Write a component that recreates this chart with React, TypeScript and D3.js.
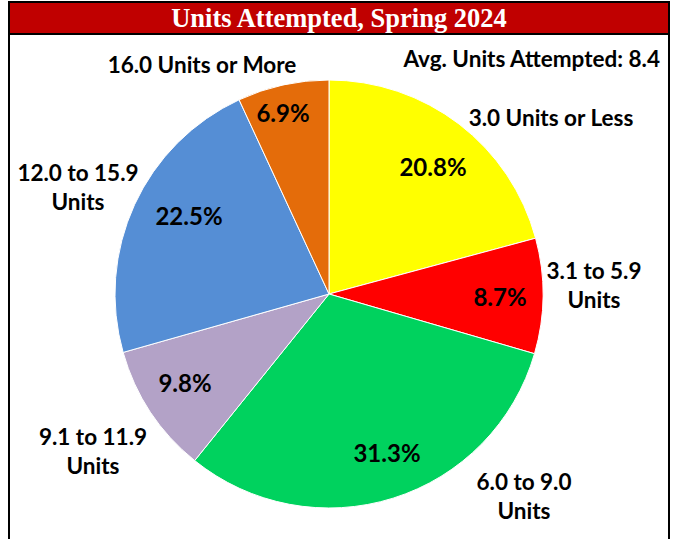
import React from "react";
import * as d3 from "d3";

const categories = [
  "3.0 Units or Less",
  "3.1 to 5.9 Units",
  "6.0 to 9.0 Units",
  "9.1 to 11.9 Units",
  "12.0 to 15.9 Units",
  "16.0 Units or More",
];
const values = [20.8, 8.7, 31.3, 9.8, 22.5, 6.9];
const colors = ["#FFFF00", "#FF0000", "#00D25E", "#B3A2C7", "#558ED5", "#E46C0A"];
const labelLines = [
  ["3.0 Units or Less"],
  ["3.1 to 5.9", "Units"],
  ["6.0 to 9.0", "Units"],
  ["9.1 to 11.9", "Units"],
  ["12.0 to 15.9", "Units"],
  ["16.0 Units or More"],
];
const title = "Units Attempted, Spring 2024";
const avgNote = "Avg. Units Attempted: 8.4";

// layout (positions of category labels and pct labels)
const catPos: [number, number][] = [
  [551, 117],
  [594, 270],
  [524, 481],
  [93, 436],
  [78, 172],
  [202, 64],
];
const pctPos: [number, number][] = [
  [433, 166],
  [500, 296],
  [387, 452],
  [185, 382],
  [189, 215],
  [283, 112],
];

export default function App() {
  const W = 677, H = 539;
  const cx = 329, cy = 294, r = 214;
  const pie = d3.pie<number>().sort(null).value((d) => d);
  const arcs = pie(values);
  const arc = d3.arc<d3.PieArcDatum<number>>().innerRadius(0).outerRadius(r);
  const font = "Lato, 'Open Sans', sans-serif";
  return (
    <svg width={W} height={H} style={{ position: "absolute", left: 0, top: 0 }}>
      <rect x={0} y={0} width={W} height={H} fill="#fff" />
      <rect x={9} y={2} width={660} height={560} fill="#fff" stroke="#000" strokeWidth={2} />
      <rect x={10} y={3} width={658} height={30} fill="#C00000" />
      <line x1={9} x2={669} y1={34} y2={34} stroke="#000" strokeWidth={2} />
      <text x={339} y={27} textAnchor="middle" fill="#fff" fontFamily="'Liberation Serif', 'Times New Roman', serif" fontWeight="bold" fontSize={26.5}>
        {title}
      </text>
      <g transform={`translate(${cx},${cy})`}>
        {arcs.map((a, i) => (
          <path key={categories[i]} d={arc(a) || ""} fill={colors[i]} stroke="#fff" strokeWidth={1} />
        ))}
      </g>
      {arcs.map((a, i) => (
        <text key={"p" + i} x={pctPos[i][0]} y={pctPos[i][1]} textAnchor="middle" dominantBaseline="central" fontFamily={font} fontWeight="bold" fontSize={24} fill="#000">
          {values[i].toFixed(1)}%
        </text>
      ))}
      {labelLines.map((lines, i) => (
        <text key={"c" + i} textAnchor="middle" fontFamily={font} fontWeight="bold" fontSize={22.5} fill="#000">
          {lines.map((ln, j) => (
            <tspan key={j} x={catPos[i][0]} y={catPos[i][1] + j * 29} dominantBaseline="central">
              {ln}
            </tspan>
          ))}
        </text>
      ))}
      <text x={660} y={58} textAnchor="end" dominantBaseline="central" fontFamily={font} fontWeight="bold" fontSize={22.5} fill="#000">
        {avgNote}
      </text>
    </svg>
  );
}
